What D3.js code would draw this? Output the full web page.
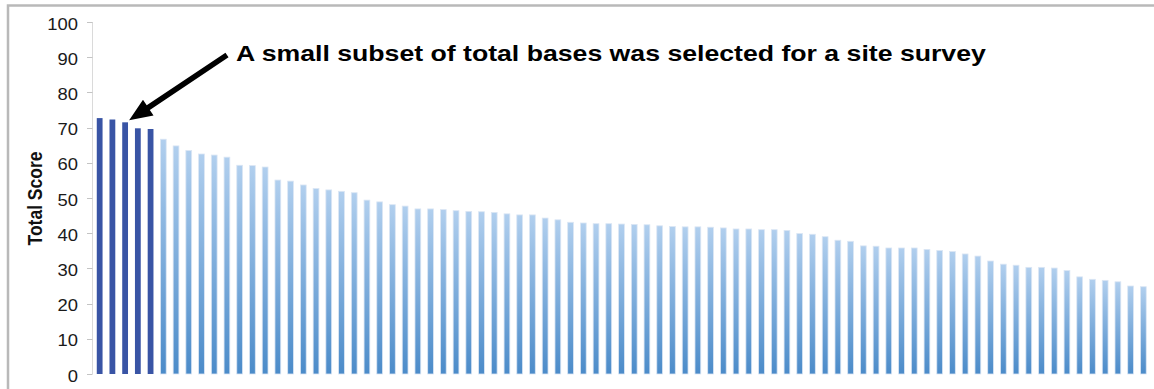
<!DOCTYPE html>
<html>
<head>
<meta charset="utf-8">
<script src="https://cdn.jsdelivr.net/npm/d3@7"></script>
<style>
  html, body { margin: 0; padding: 0; background: #fff; }
  svg { display: block; }
  text { font-family: "Liberation Sans", Arial, Helvetica, sans-serif; }
</style>
</head>
<body>
<svg id="chart" width="1154" height="389"></svg>
<script>
// Total score for each base, ranked from highest to lowest
const scores = [
  72.7, 72.3, 71.5, 69.8, 69.6, 66.7, 64.8, 63.5, 62.5, 62.2,
  61.6, 59.3, 59.2, 58.8, 55.1, 54.8, 53.7, 52.7, 52.3, 51.9,
  51.5, 49.4, 48.9, 48.1, 47.7, 46.9, 46.9, 46.7, 46.4, 46.2,
  46.1, 45.9, 45.5, 45.2, 45.2, 44.3, 43.8, 43.1, 42.9, 42.7,
  42.7, 42.6, 42.5, 42.4, 42.1, 41.9, 41.8, 41.8, 41.7, 41.5,
  41.2, 41.2, 41.0, 41.0, 40.8, 39.9, 39.7, 39.0, 38.0, 37.7,
  36.4, 36.3, 35.8, 35.8, 35.8, 35.4, 35.1, 34.8, 34.1, 33.5,
  32.1, 31.2, 30.9, 30.3, 30.3, 30.1, 29.4, 27.6, 26.9, 26.6,
  26.2, 25.0, 24.8
];
// Rank of each base (category axis, unlabeled)
const ranks = d3.range(1, scores.length + 1);
// Ranks of the bases chosen for the site survey
const surveyed = [1, 2, 3, 4, 5];
// Value axis ticks
const yTicks = [0, 10, 20, 30, 40, 50, 60, 70, 80, 90, 100];
const yTitle = "Total Score";
const note = "A small subset of total bases was selected for a site survey";
const noteTarget = 3; // rank the arrow points to

const svg = d3.select("#chart");
const stretch = 1.19; // horizontal text widening used for the note

// Outer chart frame
svg.append("rect")
  .attr("x", 8).attr("y", 5.5)
  .attr("width", 1160).attr("height", 420)
  .attr("fill", "none")
  .attr("stroke", "#b9b9b9")
  .attr("stroke-width", 2.5);

const x = d3.scaleBand()
  .domain(ranks)
  .range([93.3, 1149.7])
  .paddingInner(0.545)
  .paddingOuter(0.2725);

const y = d3.scaleLinear().domain([0, 100]).range([374, 22]);

// Bar fill gradient (light at top, deeper blue at base)
const defs = svg.append("defs");
const grad = defs.append("linearGradient")
  .attr("id", "barGrad")
  .attr("x1", 0).attr("y1", 0).attr("x2", 0).attr("y2", 1);
grad.append("stop").attr("offset", "0%").attr("stop-color", "#b1cfee");
grad.append("stop").attr("offset", "100%").attr("stop-color", "#4b8bc9");

// Y axis: line, ticks, labels
const axisX = 92.5;
svg.append("line")
  .attr("x1", axisX).attr("x2", axisX)
  .attr("y1", y(100)).attr("y2", y(0))
  .attr("stroke", "#dadada").attr("stroke-width", 1);

const tickG = svg.append("g").selectAll("g").data(yTicks).join("g");
tickG.append("line")
  .attr("x1", 87).attr("x2", axisX)
  .attr("y1", d => Math.round(y(d)) + 0.5)
  .attr("y2", d => Math.round(y(d)) + 0.5)
  .attr("stroke", "#c4c4c4").attr("stroke-width", 1);
tickG.append("g")
  .attr("transform", d => `translate(78,${y(d) + 7.6}) scale(1.15,1)`)
  .append("text")
  .attr("text-anchor", "end")
  .attr("font-size", 16)
  .attr("fill", "#1a1a1a")
  .text(d => d);

// Axis title
svg.append("g")
  .attr("transform", `translate(41.5,${(y(100) + y(0)) / 2 + 0.5}) scale(1.18,1) rotate(-90)`)
  .append("text")
  .attr("text-anchor", "middle")
  .attr("font-size", 17.5)
  .attr("font-weight", "bold")
  .attr("fill", "#111")
  .text(yTitle);

// Bars
const isSurveyed = r => surveyed.includes(r);
svg.append("g").selectAll("rect")
  .data(ranks)
  .join("rect")
  .attr("x", r => x(r))
  .attr("width", x.bandwidth())
  .attr("y", (r, i) => y(scores[i]))
  .attr("height", (r, i) => y(0) - y(scores[i]))
  .attr("fill", r => isSurveyed(r) ? "#3954a5" : "url(#barGrad)")
  .attr("stroke", r => isSurveyed(r) ? "none" : "#dbe6f4")
  .attr("stroke-width", 0.8);

// Annotation text
const noteX = 236, noteY = 61;
svg.append("g")
  .attr("transform", `translate(${noteX},${noteY}) scale(${stretch},1)`)
  .append("text")
  .attr("font-size", 22.4)
  .attr("font-weight", "bold")
  .attr("fill", "#000")
  .text(note);

// Arrow from the annotation to the chosen bar
const tip = [x(noteTarget) + x.bandwidth() / 2 + 4, y(scores[noteTarget - 1]) - 2];
const tail = [noteX - 9, noteY - 6];
const dx = tip[0] - tail[0], dy = tip[1] - tail[1];
const len = Math.hypot(dx, dy);
const ux = dx / len, uy = dy / len;      // unit along shaft
const px = -uy, py = ux;                 // unit perpendicular
const shaftHalf = 2.8, headHalf = 9.5, headLen = 23;
const base = [tip[0] - ux * headLen, tip[1] - uy * headLen];
const pts = [
  [tail[0] + px * shaftHalf, tail[1] + py * shaftHalf],
  [base[0] + px * shaftHalf, base[1] + py * shaftHalf],
  [base[0] + px * headHalf, base[1] + py * headHalf],
  tip,
  [base[0] - px * headHalf, base[1] - py * headHalf],
  [base[0] - px * shaftHalf, base[1] - py * shaftHalf],
  [tail[0] - px * shaftHalf, tail[1] - py * shaftHalf]
];
svg.append("path")
  .attr("d", d3.line()(pts) + "Z")
  .attr("fill", "#000");
</script>
</body>
</html>
